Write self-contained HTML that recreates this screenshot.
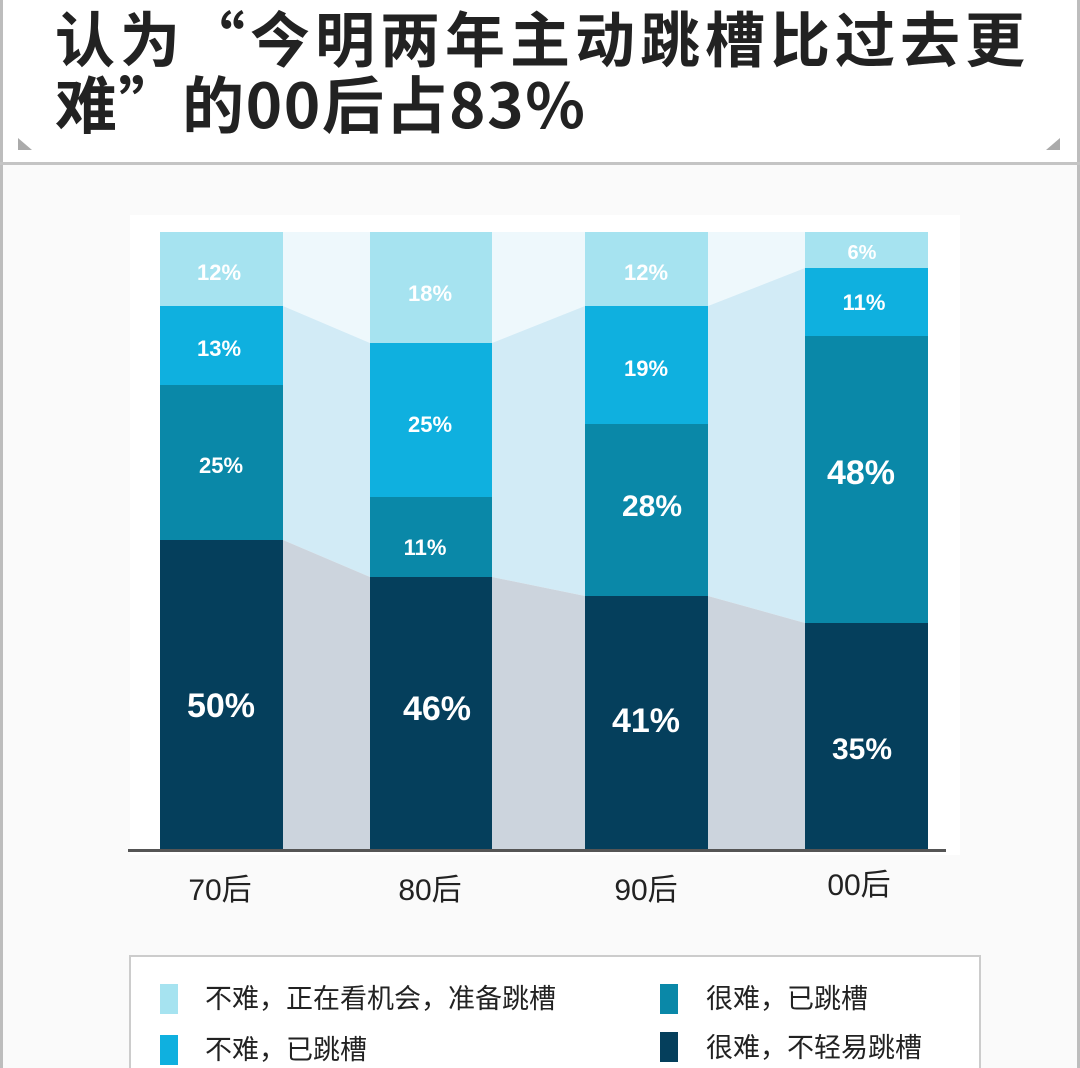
<!DOCTYPE html>
<html><head><meta charset="utf-8"><style>
html,body{margin:0;padding:0;background:#fff;}
svg{display:block;}
</style></head><body>
<svg width="1080" height="1068" xmlns="http://www.w3.org/2000/svg" font-family="'Liberation Sans','Noto Sans CJK SC',sans-serif">
<rect x="0" y="0" width="1080" height="1068" fill="#fafafa"/>
<rect x="0" y="0" width="1080" height="163" fill="#fff"/>
<rect x="0" y="0" width="3" height="1068" fill="#bdbdbd"/>
<rect x="1077" y="0" width="3" height="1068" fill="#bdbdbd"/>
<rect x="0" y="162" width="1080" height="3" fill="#c4c4c4"/>
<polygon points="18,138 18,150 32,150" fill="#aaa"/>
<polygon points="1060,138 1060,150 1046,150" fill="#aaa"/>
<text x="55" y="62" font-size="60" font-weight="bold" fill="#222" textLength="970" font-family="'Noto Sans CJK SC',sans-serif">认为“今明两年主动跳槽比过去更</text>
<text x="55" y="128" font-size="62" font-weight="bold" fill="#222" textLength="530" font-family="'Noto Sans CJK SC','Liberation Sans',sans-serif">难”的00后占83%</text>
<rect x="130" y="215" width="830" height="640" fill="#fff"/>
<g>
<polygon points="283,232 370,232 370,343 283,306" fill="#eef8fc"/>
<polygon points="283,306 370,343 370,577 283,540" fill="#d2ebf6"/>
<polygon points="283,540 370,577 370,850 283,850" fill="#ccd4dd"/>
<polygon points="492,232 585,232 585,306 492,343" fill="#eef8fc"/>
<polygon points="492,343 585,306 585,596 492,577" fill="#d2ebf6"/>
<polygon points="492,577 585,596 585,850 492,850" fill="#ccd4dd"/>
<polygon points="708,232 805,232 805,268 708,306" fill="#eef8fc"/>
<polygon points="708,306 805,268 805,623 708,596" fill="#d2ebf6"/>
<polygon points="708,596 805,623 805,850 708,850" fill="#ccd4dd"/>
</g>
<g>
<rect x="160" y="232" width="123" height="74" fill="#a6e3f0"/>
<rect x="160" y="306" width="123" height="79" fill="#0fb0df"/>
<rect x="160" y="385" width="123" height="155" fill="#0a88a8"/>
<rect x="160" y="540" width="123" height="310" fill="#053f5c"/>
<rect x="370" y="232" width="122" height="111" fill="#a6e3f0"/>
<rect x="370" y="343" width="122" height="154" fill="#0fb0df"/>
<rect x="370" y="497" width="122" height="80" fill="#0a88a8"/>
<rect x="370" y="577" width="122" height="273" fill="#053f5c"/>
<rect x="585" y="232" width="123" height="74" fill="#a6e3f0"/>
<rect x="585" y="306" width="123" height="118" fill="#0fb0df"/>
<rect x="585" y="424" width="123" height="172" fill="#0a88a8"/>
<rect x="585" y="596" width="123" height="254" fill="#053f5c"/>
<rect x="805" y="232" width="123" height="36" fill="#a6e3f0"/>
<rect x="805" y="268" width="123" height="68" fill="#0fb0df"/>
<rect x="805" y="336" width="123" height="287" fill="#0a88a8"/>
<rect x="805" y="623" width="123" height="227" fill="#053f5c"/>
</g>
<rect x="128" y="849" width="818" height="3" fill="#555"/>
<g fill="#fff" font-weight="bold" text-anchor="middle">
<g font-size="22">
<text x="219" y="280">12%</text><text x="219" y="356">13%</text><text x="221" y="473">25%</text>
<text x="430" y="301">18%</text><text x="430" y="432">25%</text><text x="425" y="555">11%</text>
<text x="646" y="280">12%</text><text x="646" y="376">19%</text>
<text x="862" y="259" font-size="20">6%</text><text x="864" y="310">11%</text>
</g>
<g font-size="34">
<text x="221" y="717">50%</text><text x="437" y="720">46%</text><text x="646" y="732">41%</text>
<text x="652" y="516" font-size="30">28%</text><text x="861" y="484">48%</text><text x="862" y="759" font-size="30">35%</text>
</g>
</g>
<g font-size="30" fill="#222" text-anchor="middle">
<text x="220" y="900">70后</text><text x="430" y="900">80后</text><text x="646" y="900">90后</text><text x="859" y="895">00后</text>
</g>
<rect x="130" y="956" width="850" height="120" fill="#fff" stroke="#ccc" stroke-width="2"/>
<rect x="160" y="984" width="18" height="30" fill="#a6e3f0"/>
<rect x="160" y="1035" width="18" height="30" fill="#0fb0df"/>
<rect x="660" y="984" width="18" height="30" fill="#0a88a8"/>
<rect x="660" y="1032" width="18" height="30" fill="#053f5c"/>
<g font-size="27" fill="#222" font-family="'Noto Sans CJK SC',sans-serif">
<text x="205" y="1008">不难，正在看机会，准备跳槽</text>
<text x="205" y="1059">不难，已跳槽</text>
<text x="706" y="1008">很难，已跳槽</text>
<text x="706" y="1057">很难，不轻易跳槽</text>
</g>
</svg>
</body></html>
